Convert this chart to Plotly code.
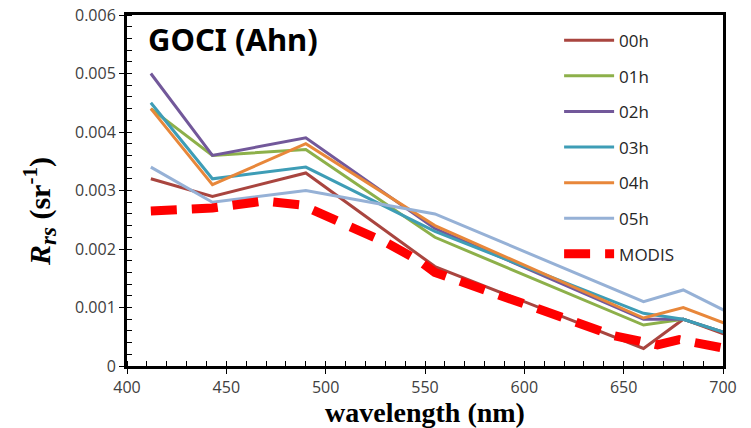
import plotly.graph_objects as go

# GOCI band centres (nm) and per-hour Rrs values (sr^-1)
goci_wl = [412, 443, 490, 555, 660, 680, 745]
rrs_00h = [0.0032, 0.0029, 0.0033, 0.0017, 0.0003, 0.0008, 0.0000]
rrs_01h = [0.0044, 0.0036, 0.0037, 0.0022, 0.0007, 0.0008, 0.00009]
rrs_02h = [0.0050, 0.0036, 0.0039, 0.00235, 0.0008, 0.0008, 0.00009]
rrs_03h = [0.0045, 0.0032, 0.0034, 0.0023, 0.0009, 0.0008, 0.00009]
rrs_04h = [0.0044, 0.0031, 0.0038, 0.0024, 0.00082, 0.0010, 0.00016]
rrs_05h = [0.0034, 0.0028, 0.0030, 0.0026, 0.0011, 0.0013, 0.0002]

# MODIS band centres and Rrs
modis_wl = [412, 443, 469, 488, 531, 547, 555, 645, 667, 678, 748]
rrs_modis = [0.00265, 0.0027, 0.00282, 0.00275, 0.0021, 0.0018, 0.0016, 0.00052, 0.00036, 0.00045, 0.0]

series_names = ["00h", "01h", "02h", "03h", "04h", "05h"]
series_vals = [rrs_00h, rrs_01h, rrs_02h, rrs_03h, rrs_04h, rrs_05h]
series_colors = ["#A9453F", "#8DB04A", "#72589A", "#3E9DB6", "#E8873A", "#96B1D6"]

x_ticks = [400, 450, 500, 550, 600, 650, 700]
y_ticks = [0, 0.001, 0.002, 0.003, 0.004, 0.005, 0.006]
y_ticktext = ["0", "0.001", "0.002", "0.003", "0.004", "0.005", "0.006"]

fig = go.Figure()
for i, (name, vals, col) in enumerate(zip(series_names, series_vals, series_colors)):
    fig.add_trace(go.Scatter(x=goci_wl, y=vals, mode="lines", name=name,
                             legendgroup=name,
                             line=dict(color=col, width=3)))
fig.add_trace(go.Scatter(x=modis_wl, y=rrs_modis, mode="lines", name="MODIS",
                         legendgroup="MODIS",
                         line=dict(color="#FF0000", width=9, dash="26px,15px")))

tickfont = dict(family="Open Sans, Noto Sans, sans-serif", size=16, color="#404040")

fig.update_layout(
    width=743, height=420,
    margin=dict(l=119, r=28, t=7, b=62),
    paper_bgcolor="white", plot_bgcolor="white",
    showlegend=True,
    legend=dict(x=0.725, y=0.978, xanchor="left", yanchor="top",
                bgcolor="rgba(0,0,0,0)", tracegroupgap=10.5, itemwidth=50,
                font=dict(family="Open Sans, Noto Sans, sans-serif", size=17, color="#262626")),
    xaxis=dict(range=[400, 700], tickvals=x_ticks, showgrid=False, zeroline=False, automargin=False,
               showline=True, linecolor="black", linewidth=3, mirror=True,
               ticks="outside", ticklen=5, tickwidth=1, tickcolor="black",
               minor=dict(dtick=10, ticks="inside", ticklen=5, tickcolor="black", tickwidth=1),
               tickfont=tickfont, ticklabeloverflow="allow",
               title=dict(text="<b>wavelength (nm)</b>", standoff=4,
                          font=dict(family="Liberation Serif, Times New Roman, serif", size=28, color="black"))),
    yaxis=dict(range=[0, 0.006], tickvals=y_ticks, ticktext=y_ticktext, showgrid=False, zeroline=False,
               automargin=False,
               showline=True, linecolor="black", linewidth=3, mirror=True,
               ticks="outside", ticklen=5, tickwidth=1, tickcolor="black",
               minor=dict(dtick=0.0002, ticks="inside", ticklen=5, tickcolor="black", tickwidth=1),
               tickfont=tickfont, ticklabeloverflow="allow"),
    annotations=[
        dict(text="<b>GOCI (Ahn)</b>", xref="paper", yref="paper",
             x=(146 - 127) / 596, y=(366 - 39) / 351, xanchor="left", yanchor="middle",
             showarrow=False,
             font=dict(family="Noto Sans, Open Sans, sans-serif", size=31, color="black")),
        dict(text="<b><i>R</i><sub><i><span style='font-size:23px'>rs</span></i></sub> "
                  "(sr<sup><span style='font-size:21px'>-1</span></sup>)</b>",
             xref="paper", yref="paper", textangle=-90,
             x=(40 - 127) / 596, y=(366 - 212) / 351, xanchor="center", yanchor="middle",
             showarrow=False,
             font=dict(family="Liberation Serif, Times New Roman, serif", size=30, color="black")),
    ],
)

fig.write_html("out.html")
